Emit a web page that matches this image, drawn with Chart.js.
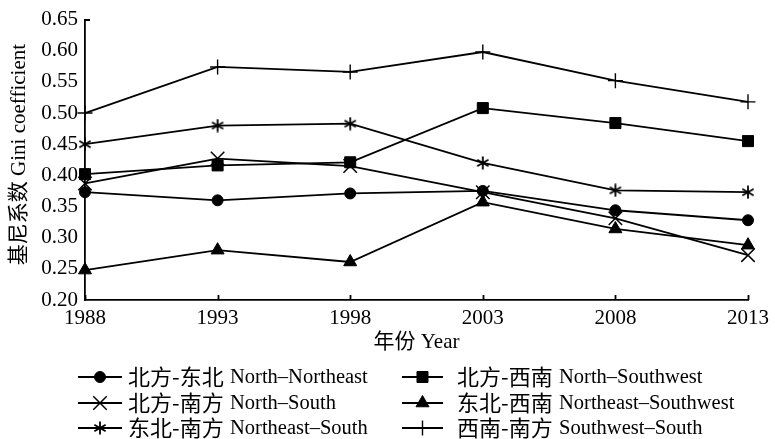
<!DOCTYPE html>
<html><head><meta charset="utf-8">
<script src="https://cdn.jsdelivr.net/npm/chart.js@4.4.1/dist/chart.umd.min.js"></script>
<style>html,body{margin:0;padding:0;background:#fff;}#wrap{width:775px;height:439px;}</style>
</head><body><div id="wrap"><canvas id="c" width="775" height="439"></canvas></div>
<script>
const years = ['1988', '1993', '1998', '2003', '2008', '2013'];
const yMin = 0.20, yMax = 0.65, yStep = 0.05;
const seriesLabelsZh = ['北方-东北', '北方-西南', '北方-南方', '东北-西南', '东北-南方', '西南-南方'];
const seriesLabelsEn = ['North–Northeast', 'North–Southwest', 'North–South', 'Northeast–Southwest', 'Northeast–South', 'Southwest–South'];
const northNortheast     = [0.373, 0.360, 0.371, 0.375, 0.344, 0.328];
const northSouthwest     = [0.402, 0.416, 0.421, 0.508, 0.484, 0.455];
const northSouth         = [0.387, 0.427, 0.415, 0.373, 0.331, 0.272];
const northeastSouthwest = [0.248, 0.280, 0.261, 0.357, 0.314, 0.288];
const northeastSouth     = [0.450, 0.480, 0.483, 0.420, 0.376, 0.373];
const southwestSouth     = [0.500, 0.574, 0.566, 0.598, 0.552, 0.518];

const FONT = "'Liberation Serif','Noto Sans CJK SC',serif";
const CJK = "'Noto Sans CJK SC',sans-serif";

function makeAsterisk(size, lw) {
  const c = document.createElement('canvas');
  c.width = size; c.height = size;
  const g = c.getContext('2d');
  g.strokeStyle = '#000'; g.lineWidth = lw;
  const r = size / 2 - 0.5, cx = size / 2, cy = size / 2;
  g.beginPath();
  [90, 30, 150].forEach(a => {
    const t = a * Math.PI / 180;
    g.moveTo(cx - r * Math.cos(t), cy - r * Math.sin(t));
    g.lineTo(cx + r * Math.cos(t), cy + r * Math.sin(t));
  });
  g.stroke();
  return c;
}
const asterisk = makeAsterisk(14, 1.8);

const styles = [
  {pointStyle: 'circle', radius: 5.5, bw: 1},
  {pointStyle: 'rect', radius: 7.8, bw: 1},
  {pointStyle: 'crossRot', radius: 9.5, bw: 1.5},
  {pointStyle: 'triangle', radius: 7.5, bw: 1},
  {pointStyle: asterisk, radius: 7, bw: 1},
  {pointStyle: 'cross', radius: 7.5, bw: 1.4}
];
const seriesData = [northNortheast, northSouthwest, northSouth, northeastSouthwest, northeastSouth, southwestSouth];

const datasets = seriesData.map((d, i) => ({
  label: seriesLabelsZh[i] + ' ' + seriesLabelsEn[i],
  data: d,
  borderColor: '#000',
  backgroundColor: '#000',
  borderWidth: 1.8,
  pointStyle: styles[i].pointStyle,
  pointRadius: styles[i].radius,
  pointBorderWidth: styles[i].bw,
  pointBackgroundColor: '#000',
  pointBorderColor: '#000',
  tension: 0,
  fill: false,
  clip: false
}));

const innerTicks = {
  id: 'innerTicks',
  afterDraw(chart) {
    const ctx = chart.ctx;
    const xs = chart.scales.x, ys = chart.scales.y;
    const area = chart.chartArea;
    ctx.save();
    ctx.strokeStyle = '#000';
    ctx.lineWidth = 1.8;
    ctx.beginPath();
    years.forEach((y, i) => {
      const px = Math.round(xs.getPixelForValue(i)) + 0.5;
      ctx.moveTo(px, area.bottom);
      ctx.lineTo(px, area.bottom - 5);
    });
    const ty = Math.round(ys.getPixelForValue(yMax));
    ctx.moveTo(area.left, ty);
    ctx.lineTo(area.left + 5, ty);
    ctx.stroke();
    ctx.restore();
  }
};

const customLegend = {
  id: 'customLegend',
  afterDraw(chart) {
    const ctx = chart.ctx;
    const rowsY = [377, 403, 428];
    const colX = [[78, 122, 128, 230], [402, 443, 457, 559]];
    ctx.save();
    chart.data.datasets.forEach((ds, i) => {
      const col = i % 2, row = Math.floor(i / 2);
      const [x0, x1, tx, ex] = colX[col];
      const y = rowsY[row];
      ctx.strokeStyle = '#000';
      ctx.lineWidth = 1.8;
      ctx.beginPath();
      ctx.moveTo(x0, y); ctx.lineTo(x1, y);
      ctx.stroke();
      ctx.fillStyle = '#000';
      ctx.lineWidth = ds.pointBorderWidth;
      Chart.helpers.drawPoint(ctx, {pointStyle: ds.pointStyle, radius: ds.pointRadius, rotation: 0, borderWidth: ds.pointBorderWidth}, (x0 + x1) / 2, y);
      ctx.textBaseline = 'middle';
      ctx.textAlign = 'left';
      ctx.font = '22px ' + CJK;
      ctx.fillText(seriesLabelsZh[i], tx, y);
      ctx.font = '20.5px ' + FONT;
      ctx.fillText(seriesLabelsEn[i], ex, y + 1);
    });
    ctx.restore();
  }
};

new Chart(document.getElementById('c'), {
  type: 'line',
  data: {labels: years, datasets},
  options: {
    responsive: false,
    devicePixelRatio: 1,
    animation: false,
    layout: {padding: {left: 0, right: 22, top: 19, bottom: 80}},
    plugins: {legend: {display: false}, tooltip: {enabled: false}},
    scales: {
      x: {
        type: 'category',
        offset: false,
        grid: {display: true, drawOnChartArea: false, drawTicks: false},
        border: {display: true, color: '#000', width: 1.8},
        ticks: {color: '#000', font: {family: FONT, size: 21}, padding: 6, maxRotation: 0, autoSkip: false},
        title: {display: true, text: '年份 Year', color: '#000', font: {family: FONT, size: 21}, padding: {top: 0, bottom: 4}},
        afterFit(s) { s.height = 59; }
      },
      y: {
        min: yMin, max: yMax,
        grid: {display: true, drawOnChartArea: false, drawTicks: false},
        border: {display: true, color: '#000', width: 1.8},
        ticks: {stepSize: yStep, color: '#000', font: {family: FONT, size: 21}, padding: 7,
          callback: v => Number(v).toFixed(2)},
        title: {display: true, text: '\u2002基尼系数 Gini coefficient', color: '#000', font: {family: FONT, size: 21}, padding: {top: 7, bottom: 0}},
        afterFit(s) { s.width = 85; }
      }
    }
  },
  plugins: [innerTicks, customLegend]
});
</script>
</body></html>
